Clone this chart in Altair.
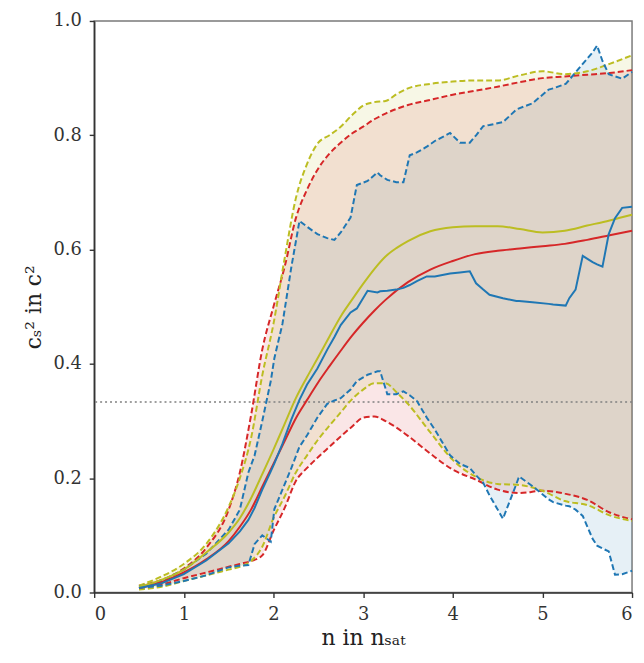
import altair as alt
import pandas as pd

# ---------------- data ----------------
RED_X = [0.5, 0.75, 1.0, 1.25, 1.5, 1.625, 1.75, 1.875, 2.0, 2.125, 2.25, 2.375, 2.5,
         2.625, 2.75, 2.875, 3.0, 3.125, 3.25, 3.5, 3.75, 4.0, 4.25, 4.5, 4.75, 5.0,
         5.25, 5.5, 5.75, 6.0]
RED_LO = [0.008, 0.014, 0.025, 0.035, 0.045, 0.05, 0.055, 0.065, 0.108, 0.148, 0.195,
          0.218, 0.237, 0.255, 0.273, 0.29, 0.306, 0.308, 0.30, 0.274, 0.243, 0.215,
          0.198, 0.18, 0.174, 0.178, 0.173, 0.162, 0.14, 0.128]
RED_MED = [0.008, 0.018, 0.035, 0.058, 0.09, 0.115, 0.145, 0.185, 0.225, 0.265, 0.305,
           0.337, 0.368, 0.396, 0.423, 0.449, 0.472, 0.493, 0.512, 0.543, 0.565, 0.58,
           0.592, 0.598, 0.602, 0.606, 0.61, 0.617, 0.625, 0.633]
RED_HI = [0.012, 0.022, 0.042, 0.078, 0.145, 0.21, 0.31, 0.425, 0.50, 0.57, 0.655,
          0.705, 0.742, 0.768, 0.787, 0.803, 0.815, 0.828, 0.838, 0.853, 0.862, 0.871,
          0.878, 0.885, 0.893, 0.90, 0.903, 0.906, 0.909, 0.914]

OLIVE_X = [0.5, 0.75, 1.0, 1.25, 1.5, 1.625, 1.75, 1.875, 2.0, 2.125, 2.25, 2.375, 2.5,
           2.625, 2.75, 2.875, 3.0, 3.125, 3.25, 3.375, 3.5, 3.75, 4.0, 4.25, 4.5, 4.75,
           5.0, 5.25, 5.5, 5.75, 6.0]
OLIVE_LO = [0.005, 0.01, 0.02, 0.03, 0.04, 0.045, 0.055, 0.08, 0.13, 0.168, 0.21, 0.24,
            0.268, 0.292, 0.315, 0.338, 0.355, 0.366, 0.366, 0.35, 0.33, 0.28, 0.232,
            0.203, 0.19, 0.188, 0.178, 0.16, 0.153, 0.135, 0.125]
OLIVE_MED = [0.01, 0.022, 0.04, 0.07, 0.105, 0.13, 0.165, 0.207, 0.25, 0.295, 0.34,
             0.377, 0.412, 0.448, 0.483, 0.512, 0.54, 0.566, 0.588, 0.603, 0.615, 0.632,
             0.639, 0.641, 0.641, 0.636, 0.63, 0.633, 0.642, 0.651, 0.661]
OLIVE_HI = [0.012, 0.028, 0.05, 0.085, 0.15, 0.2, 0.27, 0.38, 0.47, 0.585, 0.69, 0.75,
            0.787, 0.80, 0.815, 0.835, 0.852, 0.858, 0.86, 0.872, 0.882, 0.89, 0.894,
            0.896, 0.896, 0.905, 0.912, 0.907, 0.912, 0.925, 0.94]

BLUE_X = [0.5, 0.75, 1.0, 1.25, 1.5, 1.625, 1.72, 1.79, 1.875, 1.97, 2.01, 2.1, 2.2,
          2.29, 2.375, 2.49, 2.6, 2.68, 2.75, 2.86, 2.93, 3.05, 3.16, 3.19, 3.27, 3.37,
          3.45, 3.52, 3.6, 3.71, 3.8, 3.97, 4.08, 4.19, 4.26, 4.34, 4.41, 4.56, 4.71,
          4.74, 4.89, 5.07, 5.12, 5.26, 5.3, 5.37, 5.45, 5.56, 5.61, 5.67, 5.74, 5.81,
          5.89, 6.0]
BLUE_LO = [0.008, 0.012, 0.02, 0.03, 0.044, 0.047, 0.048, 0.085, 0.10, 0.089, 0.146,
           0.18, 0.218, 0.255, 0.275, 0.306, 0.33, 0.336, 0.34, 0.355, 0.37, 0.381,
           0.387, 0.387, 0.347, 0.347, 0.352, 0.345, 0.335, 0.306, 0.285, 0.24, 0.225,
           0.218, 0.205, 0.192, 0.17, 0.129, 0.19, 0.203, 0.186, 0.163, 0.158, 0.152,
           0.151, 0.145, 0.134, 0.094, 0.082, 0.077, 0.072, 0.031, 0.032, 0.038]
BLUE_MED = [0.008, 0.016, 0.032, 0.056, 0.086, 0.107, 0.127, 0.148, 0.18, 0.212, 0.226,
            0.26, 0.303, 0.337, 0.364, 0.392, 0.425, 0.447, 0.468, 0.49, 0.497, 0.528,
            0.525, 0.527, 0.528, 0.53, 0.533, 0.538, 0.545, 0.553, 0.553, 0.558, 0.56,
            0.562, 0.541, 0.53, 0.521, 0.515, 0.51, 0.51, 0.508, 0.505, 0.504, 0.502,
            0.515, 0.53, 0.589, 0.578, 0.574, 0.57, 0.627, 0.655, 0.673, 0.675]
BLUE_HI = [0.010, 0.020, 0.040, 0.068, 0.11, 0.145, 0.21, 0.24, 0.30, 0.37, 0.41, 0.47,
           0.57, 0.65, 0.64, 0.627, 0.62, 0.617, 0.63, 0.656, 0.713, 0.72, 0.735, 0.73,
           0.722, 0.718, 0.718, 0.765, 0.77, 0.78, 0.79, 0.804, 0.787, 0.787, 0.80,
           0.816, 0.818, 0.823, 0.845, 0.847, 0.856, 0.88, 0.882, 0.89, 0.897, 0.91,
           0.925, 0.945, 0.957, 0.93, 0.907, 0.903, 0.899, 0.911]

MODELS = ["blue", "red", "olive"]
COLORS = ["#1f77b4", "#d62728", "#bcbd22"]
CONFORMAL_LIMIT = 1.0 / 3.0
X_TICKS = [0, 1, 2, 3, 4, 5, 6]
Y_TICKS = [0.0, 0.2, 0.4, 0.6, 0.8, 1.0]

series = {
    "blue": (BLUE_X, BLUE_LO, BLUE_MED, BLUE_HI),
    "red": (RED_X, RED_LO, RED_MED, RED_HI),
    "olive": (OLIVE_X, OLIVE_LO, OLIVE_MED, OLIVE_HI),
}
rows = []
for m in MODELS:
    xs, lo, med, hi = series[m]
    for i in range(len(xs)):
        rows.append({"model": m, "n": xs[i], "lo": lo[i], "med": med[i], "hi": hi[i]})
df = pd.DataFrame(rows)

xscale = alt.Scale(domain=[0, 6], nice=False, zero=False)
yscale = alt.Scale(domain=[0, 1], nice=False)
cscale = alt.Scale(domain=MODELS, range=COLORS)

xax = alt.Axis(values=X_TICKS, format="d", title="n in nₛₐₜ")
yax = alt.Axis(values=Y_TICKS, format=".1f", title="cₛ² in c²")

base = alt.Chart(df)
color = alt.Color("model:N", scale=cscale, legend=None)

areas = base.mark_area(opacity=0.115, interpolate="linear").encode(
    x=alt.X("n:Q", scale=xscale, axis=xax),
    y=alt.Y("lo:Q", scale=yscale, axis=yax),
    y2="hi:Q",
    color=color,
)

ref = alt.Chart(pd.DataFrame({"y": [CONFORMAL_LIMIT]})).mark_rule(
    color="#808080", strokeDash=[2, 3], strokeWidth=1.6
).encode(y=alt.Y("y:Q", scale=yscale))

layers = [areas, ref]
for m, c in zip(["red", "olive", "blue"], ["#d62728", "#bcbd22", "#1f77b4"]):
    sub = base.transform_filter(alt.datum.model == m)
    interp = "linear" if m == "blue" else "monotone"
    for field in ["lo", "hi"]:
        layers.append(
            sub.mark_line(color=c, strokeWidth=2, strokeDash=[6, 3], interpolate=interp)
            .encode(x=alt.X("n:Q", scale=xscale), y=alt.Y(f"{field}:Q", scale=yscale))
        )
for m, c in zip(["red", "olive", "blue"], ["#d62728", "#bcbd22", "#1f77b4"]):
    sub = base.transform_filter(alt.datum.model == m)
    interp = "linear" if m == "blue" else "monotone"
    layers.append(
        sub.mark_line(color=c, strokeWidth=2, interpolate=interp)
        .encode(x=alt.X("n:Q", scale=xscale), y=alt.Y("med:Q", scale=yscale))
    )

chart = (
    alt.layer(*layers)
    .properties(
        width=543,
        height=577,
        autosize="none",
        padding={"left": 87, "top": 10, "right": 4, "bottom": 60},
    )
    .configure_view(stroke="#7a7a7a", strokeWidth=1.5)
    .configure_axis(
        grid=False,
        domainColor="#333333",
        domainWidth=1.6,
        tickColor="#333333",
        tickWidth=1.4,
        tickSize=5,
        labelFont="DejaVu Serif",
        labelFontSize=18,
        labelColor="#333333",
        labelPadding=8,
        titleFont="DejaVu Serif",
        titleFontSize=22,
        titleFontWeight="normal",
        titleColor="#222222",
    )
    .configure_axisX(titlePadding=4)
    .configure_axisY(titlePadding=8)
)

chart.save("out.html", embed_options={"renderer": "svg", "actions": False})
